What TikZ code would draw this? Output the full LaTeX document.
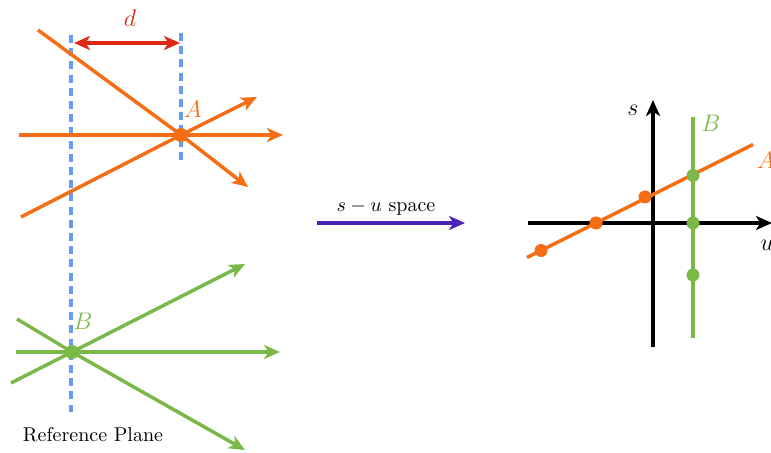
\documentclass[tikz,border=0pt]{standalone}
\usetikzlibrary{arrows.meta}
\definecolor{rayorange}{RGB}{245,110,22}
\definecolor{raygreen}{RGB}{122,185,72}
\definecolor{planeblue}{RGB}{105,155,240}
\definecolor{distred}{RGB}{220,40,20}
\definecolor{mappurple}{RGB}{75,35,185}
\tikzset{
  tip/.style={-{Stealth[length=8pt,width=7pt,inset=2.2pt]}},
  ray/.style={line width=1.75pt,tip},
  orangeray/.style={ray,rayorange},
  greenray/.style={ray,raygreen},
  planeline/.style={planeblue,line width=1.6pt,dash pattern=on 4pt off 2.6pt},
  dotA/.style={circle,fill=rayorange,inner sep=0pt,minimum size=7pt},
  dotB/.style={circle,fill=raygreen,inner sep=0pt,minimum size=7pt},
  axis/.style={black,line width=1.6pt,tip},
  lab/.style={inner sep=0pt,font=\fontsize{13}{15}\selectfont}
}
\begin{document}
\begin{tikzpicture}[x=0.5pt,y=-0.5pt]
\useasboundingbox (0,0) rectangle (771,453);
% reference planes
\coordinate (Lt) at (71,35); \coordinate (Lb) at (71,412);
\coordinate (Rt) at (181,33); \coordinate (Rb) at (181,163);
\draw[planeline] (Lt) -- (Lb);
\draw[planeline] (Rt) -- (Rb);
% distance d
\coordinate (d0) at (74,43); \coordinate (d1) at (180,43);
\draw[distred,line width=1.75pt,{Stealth[length=8pt,width=7pt,inset=2.2pt]}-{Stealth[length=8pt,width=7pt,inset=2.2pt]}] (d0) -- (d1);
\node[lab,text=distred] (dlab) at (130,18) {$d$};
% point A rays
\coordinate (A) at (181,135);
\coordinate (Ah0) at (19,135); \coordinate (Ah1) at (283,135);
\coordinate (Ad0) at (38,30); \coordinate (Ad1) at (248,187);
\coordinate (Au0) at (21,217); \coordinate (Au1) at (257,97);
\draw[orangeray] (Ah0) -- (Ah1);
\draw[orangeray] (Ad0) -- (A) -- (Ad1);
\draw[orangeray] (Au0) -- (A) -- (Au1);
\node[dotA] (Adot) at (A) {};
\node[lab,text=rayorange] (Alab) at (193,109) {$A$};
% point B rays
\coordinate (B) at (72,352);
\coordinate (Bh0) at (16,352); \coordinate (Bh1) at (280,352);
\coordinate (Bu0) at (11,383); \coordinate (Bu1) at (245,264);
\coordinate (Bd0) at (17,319); \coordinate (Bd1) at (245,450);
\draw[greenray] (Bh0) -- (Bh1);
\draw[greenray] (Bu0) -- (B) -- (Bu1);
\draw[greenray] (Bd0) -- (B) -- (Bd1);
\node[dotB] (Bdot) at (B) {};
\node[lab,text=raygreen] (Blab) at (83,321) {$B$};
\node[inner sep=0pt] (refplane) at (93,435) {Reference Plane};
% mapping arrow
\coordinate (M0) at (317,223); \coordinate (M1) at (465,223);
\draw[mappurple,line width=1.75pt,tip] (M0) -- (M1);
\node[inner sep=0pt] (maplab) at (386,208) {$s-u$ space};
% s-u axes
\coordinate (U0) at (528,223); \coordinate (U1) at (772,223);
\coordinate (S0) at (653,347); \coordinate (S1) at (653,100);
\draw[axis] (U0) -- (U1);
\draw[axis] (S0) -- (S1);
\node[lab] (slab) at (633,110) {$s$};
\node[lab] (ulab) at (767,245) {$u$};
% lines in s-u space
\coordinate (G0) at (693,338); \coordinate (G1) at (693,117);
\draw[raygreen,line width=1.75pt] (G0) -- (G1);
\coordinate (O0) at (527,257.5); \coordinate (O1) at (753,144.5);
\draw[rayorange,line width=1.75pt] (O0) -- (O1);
\node[dotA,minimum size=6.5pt] (o1) at (541,250.5) {};
\node[dotA,minimum size=6.5pt] (o2) at (596,223) {};
\node[dotA,minimum size=6.5pt] (o3) at (645,197) {};
\node[dotB,minimum size=6.5pt] (g1) at (693,175.5) {};
\node[dotB,minimum size=6.5pt] (g2) at (693,223) {};
\node[dotB,minimum size=6.5pt] (g3) at (693,275) {};
\node[lab,text=raygreen] (B2lab) at (711,123) {$B$};
\node[lab,text=rayorange] (A2lab) at (766,160) {$A$};
\end{tikzpicture}
\end{document}
